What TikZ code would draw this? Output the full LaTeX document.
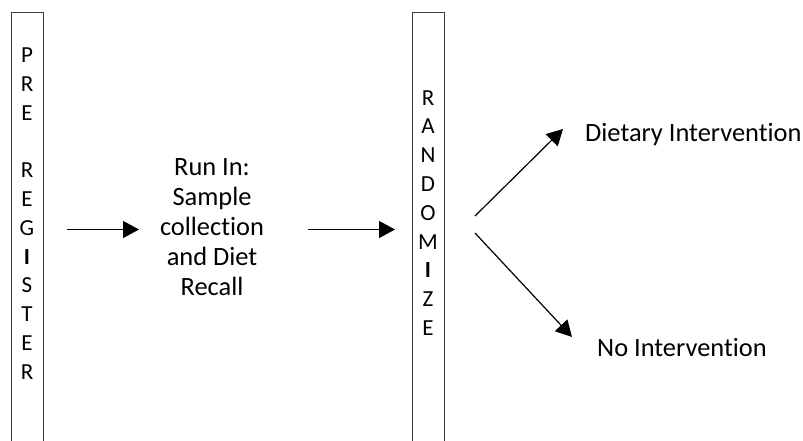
\documentclass[tikz,border=0pt]{standalone}
\usepackage{fontspec}
\setmainfont{Carlito}[Ligatures=NoCommon]
\usetikzlibrary{arrows.meta}

\begin{document}
\begin{tikzpicture}[x=1pt,y=-1pt,
  every node/.style={font=\fontsize{26.4}{30}\selectfont,inner sep=0pt},
  bar/.style={draw=black!75,line width=1pt},
  stack/.style={align=center,font=\fontsize{23}{28.8}\selectfont},
  arr/.style={line width=1.2pt,-{Triangle[length=16pt,width=17pt]}}]
\useasboundingbox (0,0) rectangle (803,440);
% pre-register bar (runs off the bottom)
\draw[bar] (11,470) -- (11,12) -- (43,12) -- (43,470);
\node[stack] (pre) at (27,213.5) {P\\R\\E\\\mbox{}\\R\\E\\G\\\textbf{I}\\S\\T\\E\\R};
% randomize bar
\draw[bar] (412,470) -- (412,12) -- (444,12) -- (444,470);
\node[stack] (rand) at (428,213) {R\\A\\N\\D\\O\\M\\\textbf{I}\\Z\\E};
% run in step
\node[align=center] (runin) at (212,227) {Run In:\\Sample\\collection\\and Diet\\Recall};
% the two arms
\node[anchor=base west] (diet) at (585,141.5) {Dietary Intervention};
\node[anchor=base west] (none) at (597,356.5) {No Intervention};
% arrow ends
\coordinate (a1s) at (67,229.5);  \coordinate (a1e) at (139,229.5);
\coordinate (a2s) at (308,229.5); \coordinate (a2e) at (395,229.5);
\coordinate (ups) at (475,216);   \coordinate (upe) at (563,129);
\coordinate (dns) at (475,233);   \coordinate (dne) at (572,337);
\draw[arr] (a1s) -- (a1e);
\draw[arr] (a2s) -- (a2e);
\draw[arr] (ups) -- (upe);
\draw[arr] (dns) -- (dne);
\end{tikzpicture}
\end{document}
